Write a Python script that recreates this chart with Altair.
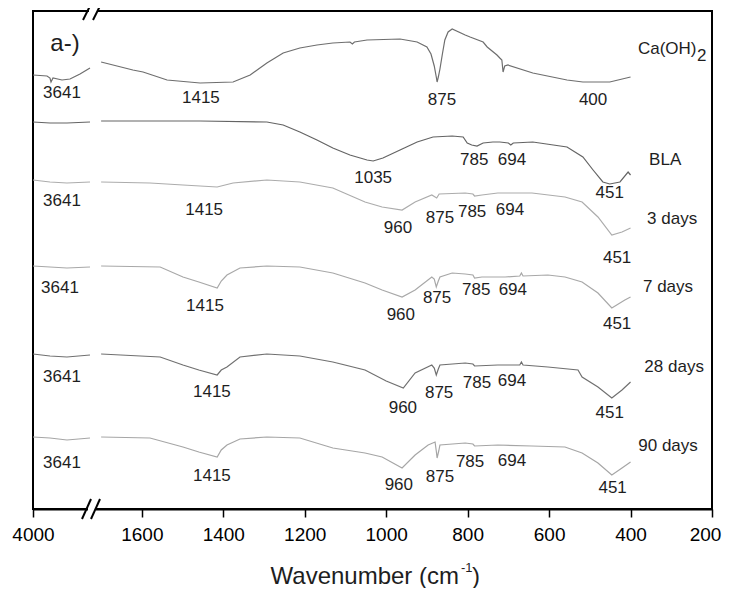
import altair as alt
import pandas as pd

FONT = "Liberation Sans"

# ---------------- spectra (wavenumber, offset transmittance a.u.) ----------------
series_names = ["Ca(OH)2", "BLA", "3 days", "7 days", "28 days", "90 days"]
series_colors = ["#6e6e6e", "#646464", "#acacac", "#a8a8a8", "#707070", "#a6a6a6"]

ca_left_w = [4000, 3740, 3685, 3666, 3629, 3462, 3314, 3128, 2943]
ca_left_v = [434, 433, 431, 427, 431, 429, 430, 435, 441]
ca_right_w = [1700, 1622, 1597, 1538, 1457, 1376, 1334, 1293, 1253, 1212, 1170, 1131, 1089, 1083, 1078,
              1047, 966, 924, 900, 890, 882, 877, 875, 872, 868, 862, 856, 848, 838, 806, 794, 762, 752,
              728, 721, 716, 713, 709, 701, 640, 556, 517, 451, 400]
ca_right_v = [447, 439, 437, 429, 426, 427, 434, 446, 456, 461, 464, 466, 467, 465, 467,
              469, 470, 467, 462, 455, 443, 432, 427, 432, 440, 455, 469, 477, 480, 474, 472, 467, 462,
              454, 451, 449, 437, 443, 444, 436, 429, 427, 427, 432]

bla_left_w = [4000, 3685, 3370, 2943]
bla_left_v = [387, 386, 386, 387]
bla_right_w = [1700, 1580, 1457, 1293, 1253, 1212, 1170, 1131, 1089, 1047, 1032, 1008, 966, 924, 885,
               838, 811, 801, 790, 777, 762, 738, 721, 700, 694, 688, 640, 556, 517, 492, 468, 451,
               426, 406, 400]
bla_right_v = [388, 388, 388, 387, 384, 377, 369, 361, 354, 349, 348, 351, 359, 367, 372,
               373, 372, 366, 364, 363, 366, 367, 367, 366, 364, 366, 367, 362, 352, 339, 327, 325,
               327, 337, 334]

d3_left_w = [4000, 3685, 3370, 2943]
d3_left_v = [329, 327, 326, 327]
d3_right_w = [1700, 1580, 1499, 1415, 1376, 1293, 1212, 1131, 1052, 1010, 961, 929, 888, 876, 870,
              806, 787, 783, 765, 726, 642, 561, 519, 480, 446, 421, 400]
d3_right_v = [327, 326, 324, 322, 326, 329, 327, 321, 307, 302, 299, 307, 314, 311, 315,
              316, 315, 313, 314, 316, 316, 312, 307, 292, 274, 277, 281]

d7_left_w = [4000, 3685, 3370, 2943]
d7_left_v = [243, 242, 241, 242]
d7_right_w = [1700, 1555, 1499, 1460, 1415, 1405, 1391, 1359, 1293, 1212, 1131, 1052, 1010, 961, 929,
              888, 882, 877, 872, 868, 838, 806, 787, 783, 765, 708, 672, 668, 664, 603, 561, 519,
              480, 446, 414, 400]
d7_right_v = [243, 242, 232, 227, 221, 228, 234, 241, 243, 242, 236, 226, 219, 212, 219,
              232, 230, 222, 228, 232, 236, 235, 234, 231, 232, 232, 233, 236, 233, 234, 232, 227,
              216, 201, 209, 212]

d28_left_w = [4000, 3685, 3370, 2943]
d28_left_v = [155, 153, 152, 154]
d28_right_w = [1700, 1555, 1499, 1460, 1415, 1405, 1391, 1359, 1293, 1212, 1131, 1052, 1000, 958, 929,
               888, 882, 877, 872, 868, 806, 787, 783, 726, 672, 668, 664, 603, 529, 519, 480, 446,
               421, 400]
d28_right_v = [155, 152, 144, 139, 134, 139, 142, 152, 155, 153, 147, 139, 128, 121, 136,
               144, 141, 134, 140, 144, 146, 145, 143, 144, 144, 147, 144, 142, 139, 132, 122, 111,
               119, 127]

d90_left_w = [4000, 3685, 3370, 2943]
d90_left_v = [72, 71, 69, 71]
d90_right_w = [1700, 1580, 1499, 1460, 1415, 1405, 1391, 1359, 1293, 1212, 1131, 1052, 1010, 961, 929,
               897, 880, 877, 875, 871, 868, 806, 787, 783, 726, 642, 561, 519, 480, 446, 421, 400]
d90_right_v = [72, 71, 62, 57, 52, 59, 64, 70, 72, 71, 61, 56, 52, 41, 54,
               64, 67, 58, 51, 58, 64, 66, 65, 63, 64, 63, 62, 56, 46, 34, 41, 47]

# ---------------- peak annotations ----------------
peak_text = ["3641", "1415", "875", "400",
             "1035", "785", "694", "451",
             "3641", "1415", "960", "875", "785", "694", "451",
             "3641", "1415", "960", "875", "785", "694", "451",
             "3641", "1415", "960", "875", "785", "694", "451",
             "3641", "1415", "960", "875", "785", "694", "451"]
peak_w = [3462, 1455, 863, 492,
          1032, 784, 691, 451,
          3462, 1447, 971, 868, 789, 696, 433,
          3499, 1445, 964, 875, 779, 689, 433,
          3462, 1428, 959, 870, 777, 691, 451,
          3462, 1428, 969, 868, 794, 691, 444]
peak_v = [416, 411, 409, 409,
          331, 349, 349, 316,
          308, 299, 281, 291, 297, 299, 251,
          221, 203, 194, 211, 219, 219, 185,
          132, 117, 101, 116, 126, 128, 96,
          46, 33, 24, 32, 47, 48, 21]

name_text = ["Ca(OH)", "2", "BLA", "3 days", "7 days", "28 days", "90 days"]
name_w = [310, 225, 315, 298, 308, 293, 308]
name_v = [460, 453, 349, 290, 222, 142, 63]

tick_values = [4000, 1600, 1400, 1200, 1000, 800, 600, 400, 200]

# ---------------- build tables ----------------
spectra = [
    ("Ca(OH)2", ca_left_w, ca_left_v, ca_right_w, ca_right_v),
    ("BLA", bla_left_w, bla_left_v, bla_right_w, bla_right_v),
    ("3 days", d3_left_w, d3_left_v, d3_right_w, d3_right_v),
    ("7 days", d7_left_w, d7_left_v, d7_right_w, d7_right_v),
    ("28 days", d28_left_w, d28_left_v, d28_right_w, d28_right_v),
    ("90 days", d90_left_w, d90_left_v, d90_right_w, d90_right_v),
]
rows = []
for name, lw, lv, rw, rv in spectra:
    for w, v in zip(lw, lv):
        rows.append({"series": name, "seg": name + "_hi", "wn": w, "t": v})
    for w, v in zip(rw, rv):
        rows.append({"series": name, "seg": name + "_lo", "wn": w, "t": v})
df = pd.DataFrame(rows)
peaks = pd.DataFrame({"label": peak_text, "wn": peak_w, "t": peak_v})
names = pd.DataFrame({"label": name_text, "wn": name_w, "t": name_v})

W, H = 679, 498
xscale = alt.Scale(domain=[4000, 2850, 1715, 200], range=[0, 62, 62, W], nice=False, zero=False)
yscale = alt.Scale(domain=[0, 498], nice=False, zero=False)

xaxis = alt.Axis(values=tick_values, format="d", title=None, grid=False,
                 domainColor="black", domainWidth=2, tickColor="black", tickWidth=1.5,
                 tickSize=8, labelFont=FONT, labelFontSize=19, labelColor="black",
                 labelPadding=8, labelFlush=False, labelOverlap=False,
                 labelOffset={"expr": "datum.value == 200 ? -7 : 0"})

lines = alt.Chart(df).mark_line(strokeWidth=1.2).encode(
    x=alt.X("wn:Q", scale=xscale, axis=xaxis),
    y=alt.Y("t:Q", scale=yscale, axis=None),
    color=alt.Color("series:N", scale=alt.Scale(domain=series_names, range=series_colors), legend=None),
    detail="seg:N",
)

peak_layer = alt.Chart(peaks).mark_text(font=FONT, fontSize=17, color="#1e1e1e",
                                        align="center", baseline="middle").encode(
    x=alt.X("wn:Q", scale=xscale), y=alt.Y("t:Q", scale=yscale), text="label:N")

name_layer = alt.Chart(names).mark_text(font=FONT, fontSize=17, color="#1e1e1e",
                                        align="center", baseline="middle").encode(
    x=alt.X("wn:Q", scale=xscale), y=alt.Y("t:Q", scale=yscale), text="label:N")

one = pd.DataFrame({"k": [0]})

def txt(s, x, y, size, align="center", baseline="middle"):
    return alt.Chart(one).mark_text(text=s, font=FONT, fontSize=size, color="#1e1e1e",
                                    align=align, baseline=baseline).encode(
        x=alt.value(x), y=alt.value(y))

def seg(x1, y1, x2, y2, color="black", width=2):
    return alt.Chart(one).mark_rule(color=color, strokeWidth=width).encode(
        x=alt.value(x1), y=alt.value(y1), x2=alt.value(x2), y2=alt.value(y2))

decor = [
    seg(56, 0, 64, 0, color="white", width=4),
    seg(55, H, 63, H, color="white", width=4),
    seg(50, 9, 60, -11), seg(60, 9, 70, -11),
    seg(49, H + 10, 58, H - 10), seg(58, H + 10, 67, H - 10),
    txt("a-)", 32, 33, 24),
    txt("Wavenumber (cm", 426, 573, 24, align="right", baseline="alphabetic"),
    txt("-1", 428, 561, 13, align="left", baseline="alphabetic"),
    txt(")", 439, 573, 24, align="left", baseline="alphabetic"),
]

chart = alt.layer(lines, peak_layer, name_layer, *decor).properties(
    width=W, height=H,
    padding={"left": 25, "top": 3, "right": 11, "bottom": 79},
    autosize=alt.AutoSizeParams(type="none"),
    background="white",
).configure_view(stroke="black", strokeWidth=2)

chart.save("out.html", embed_options={"renderer": "svg", "actions": False})
